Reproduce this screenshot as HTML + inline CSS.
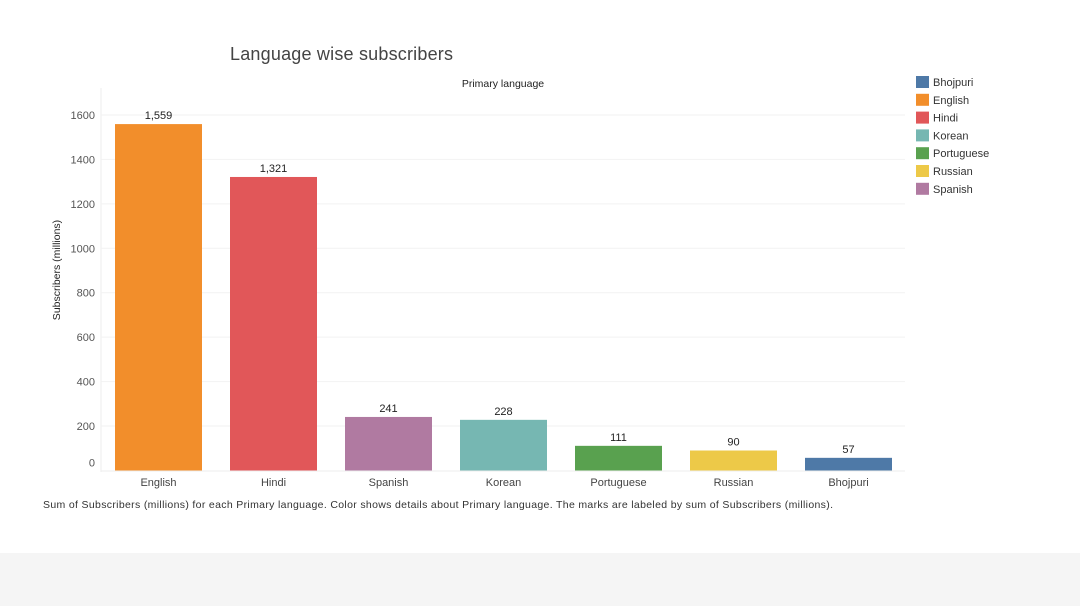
<!DOCTYPE html>
<html><head><meta charset="utf-8"><style>
body{margin:0;width:1080px;height:606px;background:#fff;font-family:"Liberation Sans",sans-serif;overflow:hidden;position:relative}
.foot{position:absolute;left:0;top:553px;width:1080px;height:53px;background:#f5f5f5}
svg text{font-family:"Liberation Sans",sans-serif}
</style></head><body>
<svg width="1080" height="553" id="c">
<text x="230" y="60" font-size="18" fill="#444" textLength="223" lengthAdjust="spacing">Language wise subscribers</text>
<text x="503" y="87" font-size="10.5" fill="#222" text-anchor="middle">Primary language</text>
<text x="60" y="270" font-size="10.5" fill="#222" text-anchor="middle" transform="rotate(-90 60 270)">Subscribers (millions)</text>
<line x1="101" y1="88" x2="101" y2="472" stroke="#eee"/>
<g id="grid"></g><g id="bars"></g>
<text x="43" y="508" font-size="10.5" fill="#333" textLength="790" lengthAdjust="spacing">Sum of Subscribers (millions) for each Primary language.  Color shows details about Primary language.  The marks are labeled by sum of Subscribers (millions).</text>
<g id="legend"></g>
</svg>
<div class="foot"></div>
<script>
const categories=["English","Hindi","Spanish","Korean","Portuguese","Russian","Bhojpuri"];
const values=[1559,1321,241,228,111,90,57];
const colors=["#f28e2b","#e15759","#b07aa1","#76b7b2","#59a14f","#edc948","#4e79a7"];
const ticks=[0,200,400,600,800,1000,1200,1400,1600];
const legendNames=["Bhojpuri","English","Hindi","Korean","Portuguese","Russian","Spanish"];
const legendColors=["#4e79a7","#f28e2b","#e15759","#76b7b2","#59a14f","#edc948","#b07aa1"];
const NS="http://www.w3.org/2000/svg";
const y=v=>470.5-v*0.2222;
const x=i=>115+i*115;
function mk(t,a,p){const e=document.createElementNS(NS,t);for(const k in a)e.setAttribute(k,a[k]);p.appendChild(e);return e;}
const g=document.getElementById('grid');
ticks.forEach(t=>{
  if(t>0){const l=mk('line',{x1:101,x2:905,y1:y(t),y2:y(t),stroke:'#f2f2f2'},g);
  
  }
  const tx=mk('text',{x:95,y:(t===0?y(t)-4:y(t)+4),'font-size':11,fill:'#555','text-anchor':'end'},g);tx.textContent=t;
  
  
});
const bl=mk('line',{x1:101,x2:905,y1:471,y2:471,stroke:'#eee'},g);
const b=document.getElementById('bars');
categories.forEach((c,i)=>{
  const r=mk('rect',{x:x(i),y:y(values[i]),width:87,height:470.5-y(values[i]),fill:colors[i]},b);
  
  
  const v=mk('text',{x:x(i)+43.5,y:y(values[i])-5,'font-size':11,fill:'#222','text-anchor':'middle'},b);
  v.textContent=values[i].toLocaleString('en-US');
  
  
  const l=mk('text',{x:x(i)+43.5,y:486,'font-size':11,fill:'#444','text-anchor':'middle'},b);
  l.textContent=c;
  
  
});
const lg=document.getElementById('legend');
legendNames.forEach((n,i)=>{
  const r=mk('rect',{x:916,y:76+i*17.8,width:13,height:12,fill:legendColors[i]},lg);
  
  
  const t=mk('text',{x:933,y:86+i*17.8,'font-size':11,fill:'#333'},lg);t.textContent=n;
  
  
});
</script>
</body></html>
